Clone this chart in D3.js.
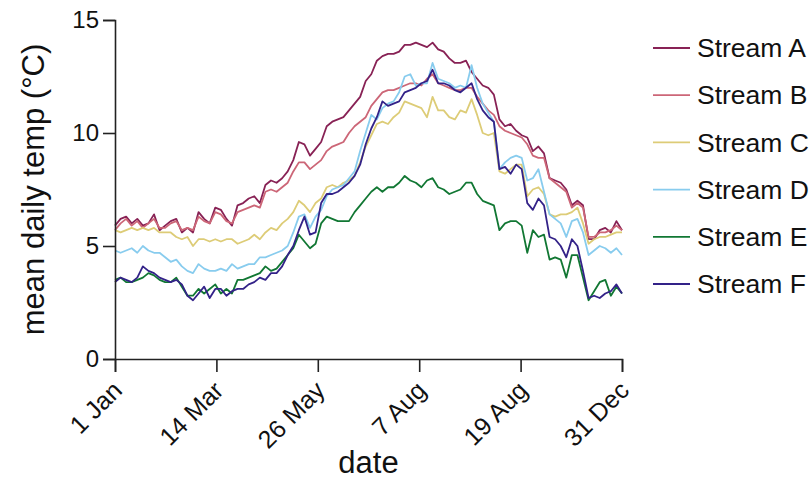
<!DOCTYPE html>
<html>
<head>
<meta charset="utf-8">
<script src="https://cdn.jsdelivr.net/npm/d3@7"></script>
<style>
  body { margin: 0; background: #fff; }
  svg { font-family: "Liberation Sans", Arial, sans-serif; }
</style>
</head>
<body>
<div id="chart"></div>
<script>
// data: one value every 4 days, 1 Jan .. 31 Dec
const streamNames = ["Stream A", "Stream B", "Stream C", "Stream D", "Stream E", "Stream F"];
const streamColors = ["#882255", "#cc6677", "#ddcc77", "#88ccee", "#117733", "#332288"];
const stepDays = 4;

const streamA = [5.9,6.2,6.3,6.0,6.2,5.9,6.0,6.4,5.7,5.9,6.1,6.2,5.6,5.8,5.6,6.5,6.2,6.0,6.7,6.6,6.2,5.9,6.8,6.9,7.1,7.2,6.9,7.7,7.9,7.8,8.0,8.3,8.8,9.6,9.5,9.0,9.3,9.6,10.3,10.5,10.6,10.7,11.0,11.3,11.6,12.3,12.6,13.2,13.4,13.5,13.5,13.6,13.9,13.9,14.0,13.9,13.8,14.0,13.7,13.6,13.3,13.1,13.1,13.2,12.7,12.4,12.1,12.0,11.7,10.6,10.3,10.4,10.1,9.9,9.8,9.2,9.4,9.1,8.0,7.9,7.8,7.5,6.8,7.0,6.8,5.3,5.3,5.7,5.8,5.6,6.1,5.7];
const streamB = [5.7,6.0,6.2,5.9,6.1,5.8,6.0,6.2,5.8,5.8,6.0,6.1,5.7,5.8,5.7,6.3,6.1,6.0,6.5,6.4,6.1,6.0,6.5,6.6,6.7,6.8,6.7,7.4,7.5,7.4,7.6,7.8,8.3,8.7,8.7,8.4,8.6,8.8,9.2,9.4,9.5,9.6,10.0,10.3,10.5,10.7,11.2,11.5,11.8,11.9,11.9,12.0,12.1,12.2,12.2,12.1,12.4,12.6,12.2,12.1,12.0,11.9,11.9,12.0,12.0,11.6,11.3,11.0,10.8,10.3,10.1,10.0,9.9,9.8,9.5,9.0,8.9,8.9,8.0,7.8,7.6,7.4,6.7,6.9,6.7,5.4,5.4,5.6,5.6,5.7,5.9,5.7];
const streamC = [5.7,5.6,5.7,5.8,5.7,5.8,5.7,5.8,5.6,5.6,5.6,5.4,5.3,5.4,5.0,5.3,5.3,5.2,5.3,5.2,5.3,5.3,5.1,5.2,5.3,5.5,5.3,5.6,5.8,5.7,6.0,6.2,6.5,7.0,6.8,6.5,6.9,7.1,7.6,7.7,7.6,7.8,7.9,8.1,8.7,9.4,9.9,10.4,10.5,10.4,10.7,10.9,11.4,11.3,11.2,11.1,10.7,11.6,11.0,11.0,10.7,10.6,11.0,10.9,11.5,10.8,10.0,9.9,10.0,8.3,8.2,8.4,8.6,8.6,7.2,7.5,7.6,7.3,6.4,6.3,6.4,6.4,6.5,6.7,6.0,5.1,5.3,5.4,5.4,5.5,5.6,5.6];
const streamD = [4.8,4.7,4.8,4.9,4.7,5.0,4.8,4.7,4.7,4.5,4.3,4.4,4.1,3.9,3.8,4.2,4.0,3.9,3.9,4.0,3.9,4.2,4.0,4.1,4.2,4.2,4.5,4.5,4.6,4.7,4.8,5.0,5.6,6.3,6.4,5.8,6.3,6.6,7.2,7.5,7.6,7.7,8.0,8.3,9.2,10.0,10.8,10.6,11.1,11.3,11.4,11.8,12.5,12.6,12.1,12.2,12.2,13.1,12.4,12.3,12.2,12.0,12.1,12.0,13.0,12.0,11.3,10.9,10.5,8.4,8.7,8.9,9.0,8.9,7.9,8.0,8.4,7.4,6.4,6.2,6.0,5.4,6.1,6.2,5.6,4.6,4.8,5.0,4.9,4.7,4.9,4.6];
const streamE = [3.5,3.6,3.4,3.4,3.5,3.6,3.8,3.7,3.5,3.4,3.4,3.6,3.2,2.8,2.8,3.1,2.9,3.1,3.3,2.9,3.1,2.9,3.5,3.5,3.6,3.7,3.8,4.1,3.9,4.0,4.3,4.6,4.9,5.5,5.2,4.9,5.1,6.0,6.3,6.2,6.1,6.1,6.1,6.5,6.8,7.1,7.4,7.6,7.4,7.6,7.6,7.8,8.1,7.9,7.8,7.6,7.9,8.0,7.6,7.5,7.3,7.4,7.5,7.8,7.8,7.3,7.0,6.9,6.8,5.7,6.0,6.1,6.1,5.9,4.7,5.7,5.4,5.5,4.4,4.5,4.4,3.6,4.6,4.6,3.6,2.6,3.0,3.4,3.5,2.8,3.2,2.9];
const streamF = [3.4,3.6,3.5,3.4,3.6,4.1,3.9,3.8,3.6,3.5,3.4,3.5,3.3,2.8,2.6,2.9,3.2,2.7,3.1,3.1,2.8,3.0,3.1,3.1,3.3,3.4,3.6,3.5,3.8,3.8,4.1,4.6,5.0,5.7,6.3,5.5,5.6,6.9,7.3,7.3,7.4,7.6,7.8,8.1,8.6,9.5,10.2,10.7,11.4,11.2,11.3,11.4,11.8,11.9,12.0,12.2,12.3,12.8,12.2,12.2,12.1,11.9,11.8,12.0,12.2,11.5,11.0,10.7,10.5,8.4,8.5,8.2,8.6,8.4,6.9,6.6,7.1,6.8,5.4,5.3,5.0,4.5,5.3,5.0,3.9,2.7,2.8,2.7,2.9,3.0,3.3,2.9];

const xTickLabels = ["1 Jan", "14 Mar", "26 May", "7 Aug", "19 Aug", "31 Dec"];
const yTicks = [0, 5, 10, 15];

const allSeries = [streamA, streamB, streamC, streamD, streamE, streamF];

const width = 811, height = 495;
const margin = { top: 20, right: 189, bottom: 136, left: 115 };
const innerW = width - margin.left - margin.right;
const innerH = height - margin.top - margin.bottom;

const svg = d3.select("#chart").append("svg")
  .attr("width", width).attr("height", height);

const g = svg.append("g")
  .attr("transform", "translate(" + margin.left + "," + margin.top + ")");

const x = d3.scaleLinear().domain([0, 364]).range([0, innerW]);
const y = d3.scaleLinear().domain([0, 15]).range([innerH, 0]);

// lines
const line = d3.line()
  .x((d, i) => x(i * stepDays))
  .y(d => y(d));

g.selectAll(".stream")
  .data(allSeries)
  .enter().append("path")
  .attr("class", "stream")
  .attr("fill", "none")
  .attr("stroke", (d, i) => streamColors[i])
  .attr("stroke-width", 1.8)
  .attr("stroke-linejoin", "round")
  .attr("d", line);

// axes
const xTickVals = xTickLabels.map((d, i) => i * 364 / (xTickLabels.length - 1));
const xAxis = d3.axisBottom(x)
  .tickValues(xTickVals)
  .tickSize(13)
  .tickFormat((d, i) => xTickLabels[i]);

const gx = g.append("g")
  .attr("transform", "translate(0," + innerH + ")")
  .call(xAxis);
gx.select(".domain").attr("stroke", "#222").attr("stroke-width", 1.6);
gx.selectAll(".tick line").attr("stroke", "#222").attr("stroke-width", 1.6);
gx.selectAll(".tick text")
  .attr("font-size", 25)
  .attr("fill", "#111")
  .attr("text-anchor", "end")
  .attr("dy", 0)
  .attr("y", 0)
  .attr("transform", "translate(8,33) rotate(-45)");

const yAxis = d3.axisLeft(y).tickValues(yTicks).tickSize(12);
const gy = g.append("g").call(yAxis);
gy.select(".domain").attr("stroke", "#222").attr("stroke-width", 1.6);
gy.selectAll(".tick line").attr("stroke", "#222").attr("stroke-width", 1.6);
gy.selectAll(".tick text")
  .attr("font-size", 24)
  .attr("fill", "#111")
  .attr("x", -16);

// axis titles
g.append("text")
  .attr("x", innerW / 2)
  .attr("y", innerH + 114)
  .attr("text-anchor", "middle")
  .attr("font-size", 31)
  .attr("fill", "#111")
  .text("date");

g.append("text")
  .attr("transform", "translate(-71," + (innerH / 2) + ") rotate(-90)")
  .attr("text-anchor", "middle")
  .attr("font-size", 31)
  .attr("fill", "#111")
  .text("mean daily temp (°C)");

// legend
const legend = svg.append("g").attr("transform", "translate(653,48)");
const items = legend.selectAll(".legend-item")
  .data(streamNames)
  .enter().append("g")
  .attr("class", "legend-item")
  .attr("transform", (d, i) => "translate(0," + (i * 47.2) + ")");
items.append("line")
  .attr("x1", 0).attr("x2", 37)
  .attr("stroke", (d, i) => streamColors[i])
  .attr("stroke-width", 1.8);
items.append("text")
  .attr("x", 44)
  .attr("dy", "0.35em")
  .attr("font-size", 26.5)
  .attr("fill", "#111")
  .text(d => d);
</script>
</body>
</html>
